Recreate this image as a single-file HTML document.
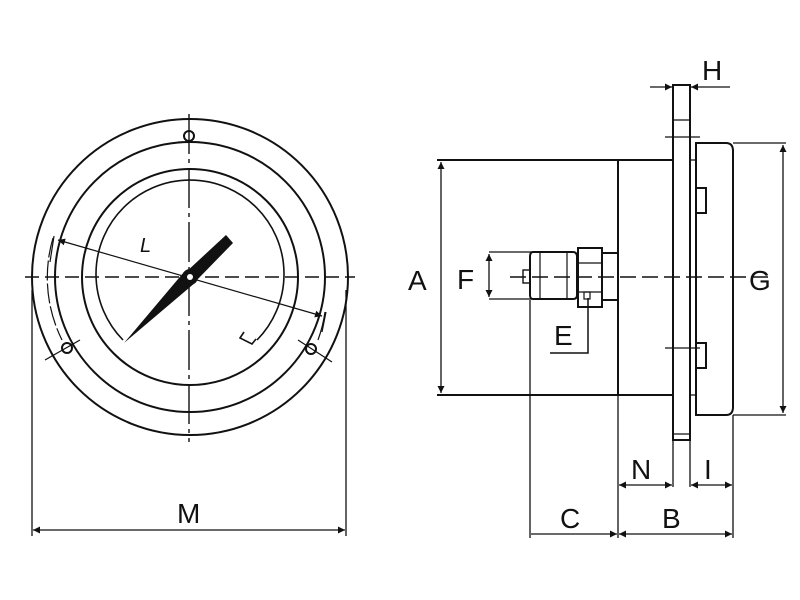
<!DOCTYPE html>
<html><head><style>html,body{margin:0;padding:0;background:#fff}svg{display:block}text{font-family:"Liberation Sans",sans-serif;font-size:28px;fill:#111}</style></head><body>
<svg width="800" height="600" viewBox="0 0 800 600" xmlns="http://www.w3.org/2000/svg">
<defs>
<marker id="a" viewBox="0 0 10 10" refX="10" refY="5" markerWidth="10" markerHeight="7" orient="auto-start-reverse" markerUnits="userSpaceOnUse"><path d="M0,0L10,5L0,10z" fill="#111"/></marker>
</defs>
<g fill="none" stroke="#111" stroke-width="2">
<circle cx="190" cy="277" r="158"/>
<circle cx="190" cy="277" r="135"/>
<circle cx="190" cy="277" r="108"/>
<path d="M123,340 A94,94 0 1 1 257,340" stroke-width="1.6"/>
<path d="M244,332 l-4,6 l12,6 l4,-5" stroke-width="1.6"/>
<path d="M53,238 A140,140 0 0 0 62,340" stroke-width="1.2" stroke-dasharray="20,3"/>
<path d="M325,312 A140,140 0 0 1 318,340" stroke-width="1.2"/>
<circle cx="189" cy="136" r="5"/>
<line x1="178" y1="142" x2="200" y2="142" stroke-width="1.2"/>
<circle cx="67" cy="348" r="5"/>
<circle cx="311" cy="349" r="5"/>
<line x1="45" y1="360" x2="80" y2="340" stroke-width="1.2"/>
<line x1="298" y1="340" x2="332" y2="362" stroke-width="1.2"/>
<line x1="25" y1="277" x2="355" y2="277" stroke-width="1.6" stroke-dasharray="14,6"/>
<line x1="189" y1="114" x2="189" y2="442" stroke-width="1.4" stroke-dasharray="40,5,4,5"/>
<line x1="58" y1="240" x2="322" y2="316" stroke-width="1.2" marker-start="url(#a)" marker-end="url(#a)"/>
<line x1="54" y1="236" x2="50" y2="262" stroke-width="1.2"/>
<line x1="326" y1="312" x2="322" y2="332" stroke-width="1.2"/>
<line x1="32" y1="290" x2="32" y2="536" stroke-width="1.3"/>
<line x1="346" y1="290" x2="346" y2="536" stroke-width="1.3"/>
<line x1="33" y1="530" x2="345" y2="530" stroke-width="1.3" marker-start="url(#a)" marker-end="url(#a)"/>
</g>
<path d="M124,343 L184,272 L196,282 Z" fill="#111"/>
<path d="M226,235 L233,243 L194,283 L185,273 Z" fill="#111"/>
<circle cx="190" cy="277" r="8" fill="#111"/>
<circle cx="190" cy="277" r="3" fill="#fff"/>
<text x="140" y="252" font-style="italic" style="font-size:20px">L</text>
<text x="177" y="523">M</text>

<g fill="none" stroke="#111" stroke-width="2">
<rect x="673" y="85" width="17" height="355"/>
<line x1="673" y1="120" x2="690" y2="120" stroke-width="1.2"/>
<line x1="665" y1="137" x2="700" y2="137" stroke-width="1.2"/>
<line x1="665" y1="348" x2="700" y2="348" stroke-width="1.2"/>
<line x1="673" y1="434" x2="690" y2="434" stroke-width="1.2"/>
<path d="M437,160 H673 M437,395 H673 M618,160 V395"/>
<path d="M696,143 H726 Q733,143 733,151 V407 Q733,415 726,415 H696 Z"/>
<path d="M690,160 H696 M690,395 H696" stroke-width="1.2"/>
<rect x="696" y="188" width="10" height="25"/>
<rect x="696" y="343" width="10" height="25"/>
<line x1="733" y1="143" x2="786" y2="143" stroke-width="1.3"/>
<line x1="733" y1="415" x2="786" y2="415" stroke-width="1.3"/>
<line x1="783" y1="145" x2="783" y2="413" stroke-width="1.3" marker-start="url(#a)" marker-end="url(#a)"/>
<line x1="441" y1="162" x2="441" y2="393" stroke-width="1.3" marker-start="url(#a)" marker-end="url(#a)"/>
<rect x="578" y="248" width="24" height="59"/>
<line x1="578" y1="263" x2="602" y2="263" stroke-width="1.2"/>
<line x1="578" y1="292" x2="602" y2="292" stroke-width="1.2"/>
<rect x="584" y="292" width="6" height="7" stroke-width="1.2"/>
<path d="M602,253 H618 M602,300 H618"/>
<path d="M533,252 H573 Q577,252 577,257 V295 Q577,299 573,299 H533 Q530,299 530,295 V257 Q530,252 533,252 Z"/>
<line x1="540" y1="253" x2="540" y2="299" stroke-width="1.2"/>
<line x1="567" y1="253" x2="567" y2="299" stroke-width="1.2"/>
<rect x="523" y="270" width="7" height="13" stroke-width="1.4"/>
<line x1="489" y1="252" x2="540" y2="252" stroke-width="1.3"/>
<line x1="489" y1="299" x2="540" y2="299" stroke-width="1.3"/>
<line x1="489" y1="254" x2="489" y2="297" stroke-width="1.3" marker-start="url(#a)" marker-end="url(#a)"/>
<path d="M588,298 V353 H550" stroke-width="1.5"/>
<line x1="510" y1="277" x2="770" y2="277" stroke-width="1.5" stroke-dasharray="16,6"/>
<line x1="530" y1="300" x2="530" y2="538" stroke-width="1.3"/>
<line x1="618" y1="395" x2="618" y2="538" stroke-width="1.3"/>
<line x1="733" y1="415" x2="733" y2="538" stroke-width="1.3"/>
<line x1="673" y1="440" x2="673" y2="487" stroke-width="1.3"/>
<line x1="690" y1="440" x2="690" y2="487" stroke-width="1.3"/>
<line x1="531" y1="534" x2="617" y2="534" stroke-width="1.3" marker-end="url(#a)"/>
<line x1="619" y1="534" x2="732" y2="534" stroke-width="1.3" marker-start="url(#a)" marker-end="url(#a)"/>
<line x1="619" y1="485" x2="672" y2="485" stroke-width="1.3" marker-start="url(#a)" marker-end="url(#a)"/>
<line x1="691" y1="485" x2="732" y2="485" stroke-width="1.3" marker-start="url(#a)" marker-end="url(#a)"/>
<line x1="650" y1="87" x2="672" y2="87" stroke-width="1.3" marker-end="url(#a)"/>
<line x1="730" y1="87" x2="691" y2="87" stroke-width="1.3" marker-end="url(#a)"/>
</g>
<text x="408" y="290">A</text>
<text x="457" y="289">F</text>
<text x="749" y="290">G</text>
<text x="554" y="345">E</text>
<text x="702" y="80">H</text>
<text x="631" y="479">N</text>
<text x="704" y="479">I</text>
<text x="560" y="528">C</text>
<text x="662" y="528">B</text>
</svg>
</body></html>
